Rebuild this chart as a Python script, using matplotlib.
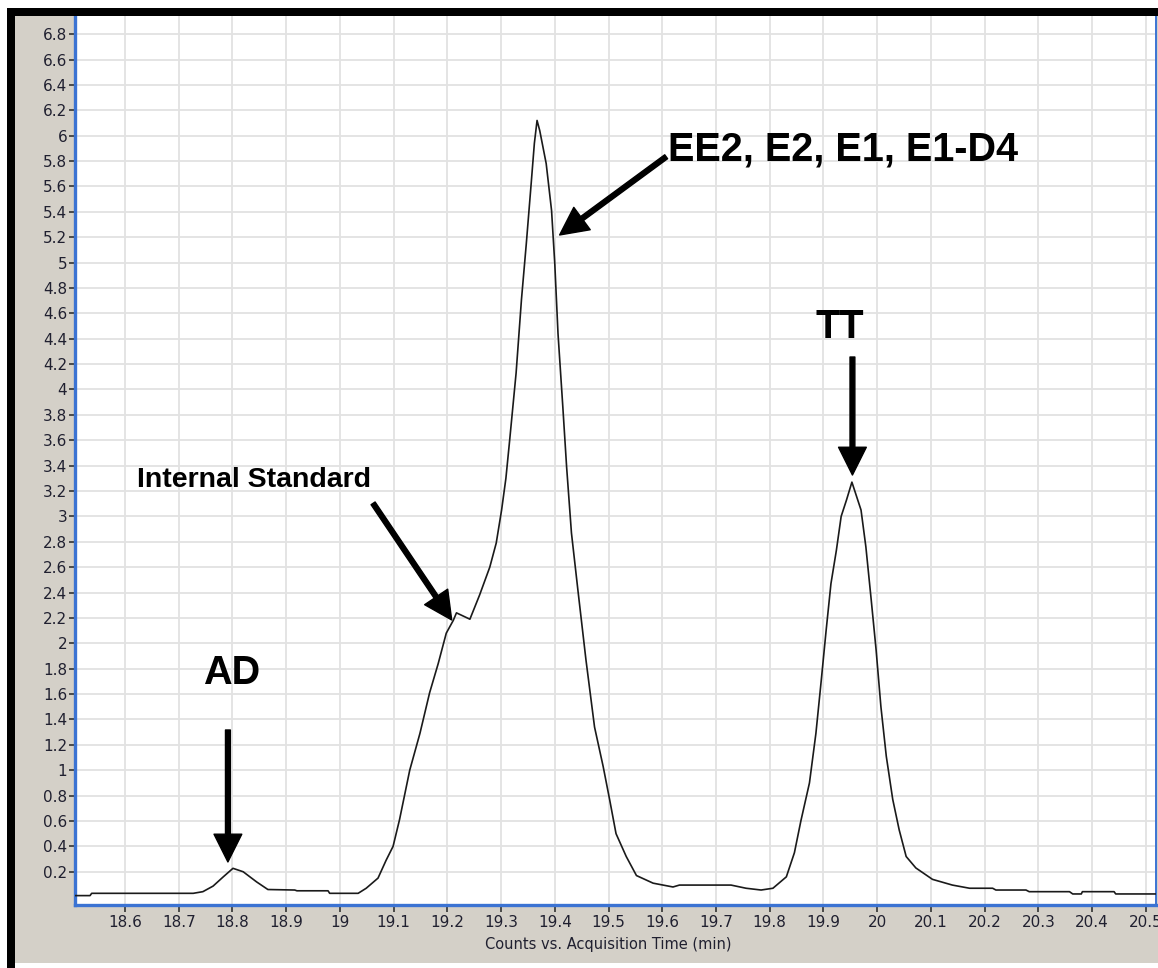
import matplotlib
matplotlib.use("Agg")
import matplotlib.pyplot as plt
from matplotlib.patches import Rectangle

# chromatogram trace (x in min, y in counts)
time_min = [18.508, 18.535, 18.538, 18.727, 18.745, 18.764, 18.783, 18.801, 18.820, 18.845,
            18.866, 18.916, 18.920, 18.978, 18.981, 19.034, 19.049, 19.071, 19.086, 19.099,
            19.111, 19.130, 19.149, 19.167, 19.183, 19.198, 19.211, 19.217, 19.242, 19.260,
            19.279, 19.291, 19.301, 19.309, 19.316, 19.328, 19.338, 19.347, 19.356, 19.362,
            19.367, 19.372, 19.384, 19.394, 19.400, 19.406, 19.415, 19.422, 19.431, 19.443,
            19.458, 19.474, 19.490, 19.502, 19.514, 19.533, 19.552, 19.583, 19.620, 19.632,
            19.728, 19.756, 19.784, 19.806, 19.831, 19.846, 19.858, 19.874, 19.886, 19.896,
            19.905, 19.914, 19.924, 19.933, 19.943, 19.953, 19.970, 19.979, 19.989, 19.998,
            20.007, 20.017, 20.029, 20.041, 20.054, 20.072, 20.103, 20.140, 20.172, 20.215,
            20.221, 20.277, 20.283, 20.358, 20.364, 20.380, 20.382, 20.441, 20.444, 20.519]
counts = [0.012, 0.012, 0.030, 0.030, 0.043, 0.087, 0.160, 0.227, 0.200, 0.120,
          0.060, 0.056, 0.050, 0.050, 0.030, 0.030, 0.070, 0.150, 0.290, 0.400,
          0.610, 1.000, 1.290, 1.610, 1.840, 2.080, 2.180, 2.240, 2.190, 2.380,
          2.600, 2.790, 3.050, 3.300, 3.600, 4.130, 4.710, 5.150, 5.620, 5.940,
          6.120, 6.040, 5.780, 5.410, 4.990, 4.440, 3.860, 3.390, 2.870, 2.420,
          1.870, 1.340, 1.030, 0.770, 0.500, 0.320, 0.170, 0.110, 0.080, 0.095,
          0.095, 0.070, 0.056, 0.070, 0.160, 0.350, 0.600, 0.900, 1.290, 1.710,
          2.100, 2.470, 2.730, 3.000, 3.130, 3.270, 3.050, 2.760, 2.340, 1.950,
          1.500, 1.110, 0.770, 0.530, 0.320, 0.230, 0.140, 0.095, 0.070, 0.070,
          0.056, 0.056, 0.043, 0.043, 0.025, 0.025, 0.043, 0.043, 0.025, 0.025]

x_ticks = [18.6, 18.7, 18.8, 18.9, 19.0, 19.1, 19.2, 19.3, 19.4, 19.5,
           19.6, 19.7, 19.8, 19.9, 20.0, 20.1, 20.2, 20.3, 20.4, 20.5]
y_ticks = [0.2, 0.4, 0.6, 0.8, 1.0, 1.2, 1.4, 1.6, 1.8, 2.0, 2.2, 2.4, 2.6, 2.8, 3.0, 3.2, 3.4,
           3.6, 3.8, 4.0, 4.2, 4.4, 4.6, 4.8, 5.0, 5.2, 5.4, 5.6, 5.8, 6.0, 6.2, 6.4, 6.6, 6.8]

# peak labels: text, text anchor, arrow tail, arrow tip
peak_labels = ['AD', 'Internal Standard', 'EE2, E2, E1, E1-D4', 'TT']
label_pos = [(18.799, 1.679), (18.6216, 3.234), (19.6099, 5.808), (19.9312, 4.403)]
arrow_tail = [(18.7916, 1.317), (19.0618, 3.103), (19.6073, 5.834), (19.954, 4.256)]
arrow_tip = [(18.7916, 0.277), (19.2081, 2.184), (19.409, 5.2175), (19.954, 3.326)]
label_size = [28.5, 20.5, 28.5, 28.5]
label_ha = ['center', 'left', 'left', 'center']

W, H = 1158, 968
fig = plt.figure(figsize=(W / 100, H / 100), dpi=100)
fig.patch.set_facecolor('white')

# window chrome: grey panel with heavy black frame on top/left
fig.add_artist(Rectangle((15 / W, (H - 963) / H), (W - 15) / W, (963 - 16) / H,
                         transform=fig.transFigure, facecolor='#D4D0C8', edgecolor='none', zorder=-1))
fig.add_artist(Rectangle((7 / W, (H - 16) / H), (W - 7) / W, 8 / H,
                         transform=fig.transFigure, facecolor='black', edgecolor='none', zorder=5))
fig.add_artist(Rectangle((7 / W, 0), 8 / W, (H - 8) / H,
                         transform=fig.transFigure, facecolor='black', edgecolor='none', zorder=5))

ax = fig.add_axes([75 / W, (H - 905) / H, (1156 - 75) / W, (905 - 16) / H])
ax.set_facecolor('white')
ax.plot(time_min, counts, color='#1a1a1a', lw=1.2, zorder=3)

ax.set_xlim(18.507, 20.519)
ax.set_ylim(-0.062, 6.943)
ax.set_xticks(x_ticks)
ax.set_xticklabels([f'{v:g}' for v in x_ticks])
ax.set_yticks(y_ticks)
ax.set_yticklabels([f'{v:g}' for v in y_ticks])
ax.grid(True, color='#E2E2E2', lw=1.3)
ax.set_axisbelow(True)

tick_color = '#202030'
ax.tick_params(axis='y', length=4, width=1.2, color='#333333', pad=1.5,
               labelsize=11, labelcolor=tick_color)
ax.tick_params(axis='x', length=5, width=1.2, color='#333333', pad=2,
               labelsize=11, labelcolor=tick_color)

ax.spines['top'].set_visible(False)
for side in ['left', 'bottom']:
    ax.spines[side].set_color('#3B73D3')
    ax.spines[side].set_linewidth(2.4)
ax.spines['right'].set_color('#3B73D3')
ax.spines['right'].set_linewidth(1.4)

fig.text(608 / W, (H - 945) / H, 'Counts vs. Acquisition Time (min)',
         ha='center', va='center', fontsize=10.5, color=tick_color)

for i, name in enumerate(peak_labels):
    ax.text(label_pos[i][0], label_pos[i][1], name, fontsize=label_size[i], fontweight='bold',
            family='Liberation Sans', ha=label_ha[i], va='baseline', color='black', zorder=6)
    ax.annotate('', xy=arrow_tip[i], xytext=arrow_tail[i],
                arrowprops=dict(facecolor='black', edgecolor='black', width=3.5,
                                headwidth=20, headlength=20, shrink=0), zorder=6)

plt.savefig('out.png', dpi=100)
plt.close()
